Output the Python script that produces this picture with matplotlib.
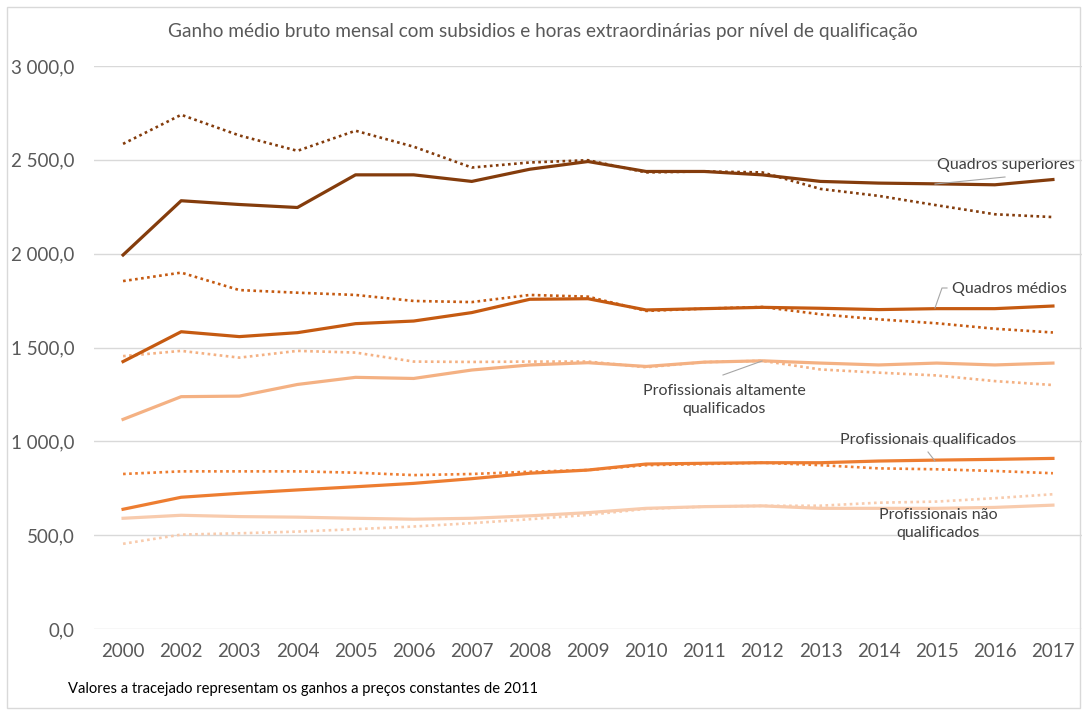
import matplotlib
matplotlib.use("Agg")
import matplotlib.pyplot as plt
from matplotlib.patches import Rectangle
from matplotlib.ticker import FuncFormatter

plt.rcParams['font.family'] = ['Lato', 'DejaVu Sans']

years = ["2000", "2002", "2003", "2004", "2005", "2006", "2007", "2008", "2009",
         "2010", "2011", "2012", "2013", "2014", "2015", "2016", "2017"]

# nominal values (solid)
sup_nom = [1993, 2282, 2262, 2246, 2420, 2420, 2385, 2450, 2491, 2438, 2438, 2420, 2385, 2376, 2372, 2367, 2395]
med_nom = [1425, 1584, 1558, 1579, 1627, 1641, 1686, 1757, 1760, 1700, 1707, 1714, 1709, 1702, 1707, 1707, 1721]
alt_nom = [1117, 1238, 1241, 1303, 1341, 1335, 1380, 1407, 1419, 1399, 1422, 1429, 1417, 1407, 1417, 1407, 1417]
qua_nom = [638, 702, 723, 741, 758, 776, 801, 830, 847, 879, 883, 886, 886, 895, 900, 904, 909]
nao_nom = [590, 606, 599, 596, 590, 585, 590, 603, 620, 643, 652, 656, 643, 643, 643, 648, 660]

# constant 2011 prices (dotted)
sup_real = [2585, 2740, 2630, 2548, 2655, 2570, 2459, 2486, 2498, 2433, 2438, 2433, 2345, 2308, 2258, 2210, 2195]
med_real = [1854, 1899, 1806, 1792, 1780, 1748, 1742, 1780, 1771, 1695, 1707, 1716, 1677, 1650, 1629, 1600, 1580]
alt_real = [1454, 1482, 1446, 1482, 1473, 1425, 1423, 1425, 1425, 1395, 1422, 1429, 1383, 1366, 1351, 1321, 1300]
qua_real = [826, 840, 840, 840, 833, 820, 826, 838, 847, 873, 879, 886, 873, 856, 851, 842, 830]
nao_real = [454, 503, 510, 519, 532, 546, 564, 585, 608, 640, 652, 656, 657, 673, 679, 697, 718]

colors = ["#843C0C", "#C55A11", "#F4B183", "#ED7D31", "#F8CBAD"]
nominal = [sup_nom, med_nom, alt_nom, qua_nom, nao_nom]
real = [sup_real, med_real, alt_real, qua_real, nao_real]

W, H = 1089, 715
fig = plt.figure(figsize=(W / 100, H / 100), dpi=100)
ax = fig.add_axes([94 / W, 1 - 629 / H, (1082 - 94) / W, (629 - 66) / H])

x = list(range(len(years)))
for c, vals in zip(colors, real):
    ax.plot(x, vals, color=c, lw=1.9, linestyle=(0, (1, 1.3)), zorder=2)
for c, vals in zip(colors, nominal):
    ax.plot(x, vals, color=c, lw=2.3, zorder=3, solid_joinstyle='round')

ax.set_xlim(-0.5, len(years) - 0.5)
ax.set_ylim(0, 3000)
ax.set_yticks([0, 500, 1000, 1500, 2000, 2500, 3000])
ax.yaxis.set_major_formatter(FuncFormatter(
    lambda v, p: f"{v:,.1f}".replace(",", " ").replace(".", ",")))
ax.set_xticks(x)
ax.set_xticklabels(years)
ax.grid(axis='y', color='#D9D9D9', lw=1)
ax.set_axisbelow(True)
for s in ax.spines.values():
    s.set_visible(False)
ax.tick_params(axis='both', length=0, labelsize=13.5, labelcolor='#595959')
ax.tick_params(axis='x', pad=10)
ax.tick_params(axis='y', pad=14)

# title
fig.text(543 / W, 1 - 31 / H,
         "Ganho médio bruto mensal com subsidios e horas extraordinárias por nível de qualificação",
         ha='center', va='center', fontsize=13.7, color='#595959')
# footnote
fig.text(68 / W, 1 - 689 / H,
         "Valores a tracejado representam os ganhos a preços constantes de 2011",
         ha='left', va='center', fontsize=10.6, color='#000000')

lab_kw = dict(fontsize=11.5, color='#404040', zorder=5)
leader = dict(color='#A6A6A6', lw=0.8)

def px(xp, yp):
    return xp / W, 1 - yp / H

fig.text(*px(1006, 165), "Quadros superiores", ha='center', va='center', **lab_kw)
fig.add_artist(plt.Line2D([1005 / W, 935 / W], [1 - 177 / H, 1 - 184 / H], **leader))

fig.text(*px(1009, 289), "Quadros médios", ha='center', va='center', **lab_kw)
fig.add_artist(plt.Line2D([947 / W, 942 / W, 935 / W],
                          [1 - 288 / H, 1 - 288 / H, 1 - 308 / H], **leader))

fig.text(*px(724, 400), "Profissionais altamente\nqualificados", ha='center',
         va='center', linespacing=1.4, **lab_kw)
fig.add_artist(plt.Line2D([723 / W, 762 / W], [1 - 375 / H, 1 - 361 / H], **leader))

fig.text(*px(928, 440), "Profissionais qualificados", ha='center', va='center', **lab_kw)
fig.add_artist(plt.Line2D([928 / W, 935 / W], [1 - 452 / H, 1 - 461 / H], **leader))

fig.text(*px(938, 524), "Profissionais não\nqualificados", ha='center',
         va='center', linespacing=1.4, **lab_kw)

# chart border
fig.add_artist(Rectangle((7 / W, 1 - 708 / H), (1080 - 7) / W, (708 - 7) / H,
                         transform=fig.transFigure, fill=False,
                         edgecolor='#D9D9D9', lw=1))

fig.savefig("out.png", dpi=100)
